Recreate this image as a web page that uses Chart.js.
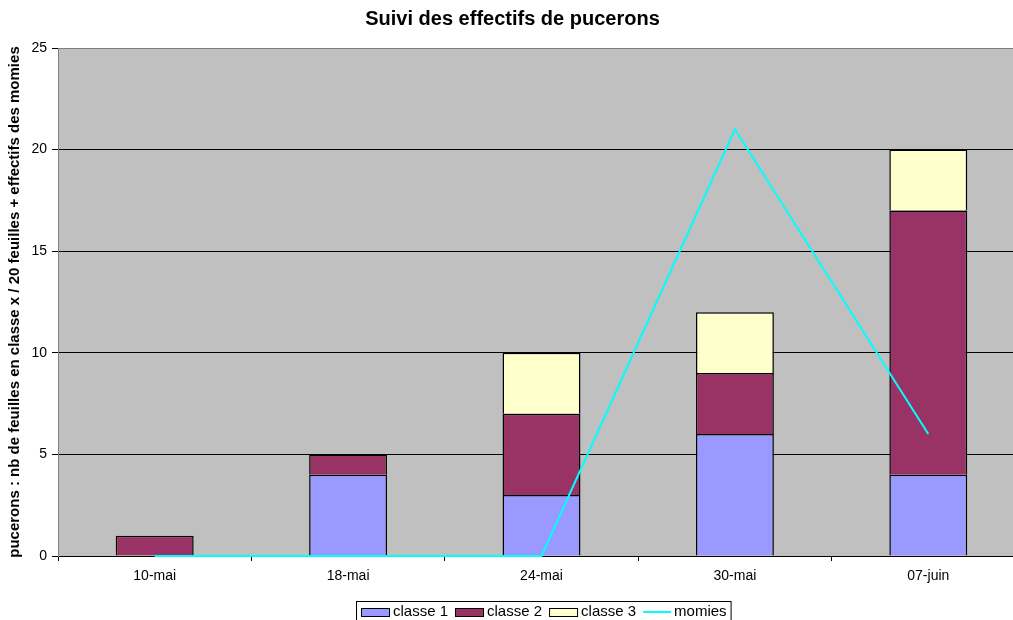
<!DOCTYPE html>
<html>
<head>
<meta charset="utf-8">
<script src="https://cdn.jsdelivr.net/npm/chart.js@4/dist/chart.umd.min.js"></script>
<style>
html,body{margin:0;padding:0;background:#fff;overflow:hidden;}
#wrap{width:1040px;height:620px;}
</style>
</head>
<body>
<div id="wrap"><canvas id="c" width="1040" height="620"></canvas></div>
<script>
const categories = ['10-mai', '18-mai', '24-mai', '30-mai', '07-juin'];
const classe1 = [0, 4, 3, 6, 4];
const classe2 = [1, 1, 4, 3, 13];
const classe3 = [0, 0, 3, 3, 3];
const momies = [0, 0, 0, 21, 6];
const yTicks = [0, 5, 10, 15, 20, 25];

const FONT = '"Liberation Sans", Arial, sans-serif';

const plotBg = {
  id: 'plotBg',
  beforeDraw(chart) {
    const {ctx, chartArea: a} = chart;
    ctx.save();
    ctx.fillStyle = '#C0C0C0';
    ctx.fillRect(a.left, a.top, a.right - a.left, a.bottom - a.top);
    ctx.restore();
  },
  beforeDatasetsDraw(chart) {
    const {ctx, chartArea: a} = chart;
    ctx.save();
    ctx.strokeStyle = '#808080';
    ctx.lineWidth = 1;
    ctx.beginPath();
    ctx.moveTo(a.left, a.top + 0.5);
    ctx.lineTo(a.right - 0.5, a.top + 0.5);
    ctx.lineTo(a.right - 0.5, a.bottom);
    ctx.stroke();
    ctx.restore();
  },
  afterDraw(chart) {
    // legend (bottom, boxed, as in the original)
    const {ctx} = chart;
    const ds = chart.data.datasets;
    ctx.save();
    ctx.font = '15px ' + FONT;
    ctx.textBaseline = 'middle';
    ctx.fillStyle = '#fff';
    const boxLeft = 356, boxTop = 601;
    let x = 361;
    const yMid = 612;
    const items = [];
    ds.forEach((d) => {
      const w = ctx.measureText(d.label).width;
      items.push({d, x, w});
      x += (d.type === 'line' ? 31 : 32) + w + 7;
    });
    const boxRight = x - 7 + 4;
    ctx.fillRect(boxLeft, boxTop, boxRight - boxLeft, 30);
    ctx.strokeStyle = '#000';
    ctx.lineWidth = 1;
    ctx.strokeRect(boxLeft + 0.5, boxTop + 0.5, boxRight - boxLeft, 30);
    items.forEach(({d, x, w}) => {
      if (d.type === 'line') {
        ctx.strokeStyle = d.borderColor;
        ctx.lineWidth = 2;
        ctx.beginPath();
        ctx.moveTo(x, yMid);
        ctx.lineTo(x + 28, yMid);
        ctx.stroke();
        ctx.fillStyle = '#000';
        ctx.fillText(d.label, x + 31, yMid);
      } else {
        ctx.fillStyle = d.backgroundColor;
        ctx.fillRect(x, yMid - 4, 29, 8);
        ctx.strokeStyle = '#000';
        ctx.lineWidth = 1;
        ctx.strokeRect(x + 0.5, yMid - 4 + 0.5, 28, 8);
        ctx.fillStyle = '#000';
        ctx.fillText(d.label, x + 32, yMid);
      }
    });
    ctx.restore();
  }
};

new Chart(document.getElementById('c'), {
  data: {
    labels: categories,
    datasets: [
      {type: 'bar', label: 'classe 1', data: classe1, backgroundColor: '#9999FF', borderColor: '#000', borderWidth: 1.5, stack: 's', order: 1},
      {type: 'bar', label: 'classe 2', data: classe2, backgroundColor: '#993366', borderColor: '#000', borderWidth: 1.5, stack: 's', order: 1},
      {type: 'bar', label: 'classe 3', data: classe3, backgroundColor: '#FFFFCC', borderColor: '#000', borderWidth: 1.5, stack: 's', order: 1},
      {type: 'line', label: 'momies', data: momies, borderColor: '#00FFFF', backgroundColor: '#00FFFF', borderWidth: 2, pointRadius: 0, tension: 0, fill: false, stack: 'l', order: 0, clip: false}
    ]
  },
  options: {
    responsive: false,
    animation: false,
    layout: {padding: {left: 0, right: 15, top: 0, bottom: 0}},
    datasets: {bar: {categoryPercentage: 1, barPercentage: 0.403}},
    plugins: {
      title: {display: true, text: 'Suivi des effectifs de pucerons', color: '#000', font: {family: FONT, size: 20, weight: 'bold'}, padding: {top: 7, bottom: 17}},
      tooltip: {enabled: false},
      legend: {display: false}
    },
    scales: {
      x: {
        stacked: true,
        offset: true,
        afterFit: (s) => { s.height = 64; },
        grid: {offset: true, drawOnChartArea: false, color: '#000', tickLength: 5},
        border: {color: '#000'},
        ticks: {color: '#000', font: {family: FONT, size: 14}, padding: 7}
      },
      y: {
        stacked: true,
        min: 0, max: 25,
        afterFit: (s) => { s.width = 58; },
        afterBuildTicks: (s) => { s.ticks = yTicks.map(v => ({value: v})); },
        grid: {color: '#000', tickLength: 6},
        border: {color: '#808080'},
        ticks: {color: '#000', font: {family: FONT, size: 14}, padding: 5},
        title: {display: true, text: 'pucerons : nb de feuilles en classe x / 20 feuilles + effectifs des momies', color: '#000', font: {family: FONT, size: 15, weight: 'bold'}, padding: {top: 6, bottom: 0}}
      }
    }
  },
  plugins: [plotBg]
});
</script>
</body>
</html>
